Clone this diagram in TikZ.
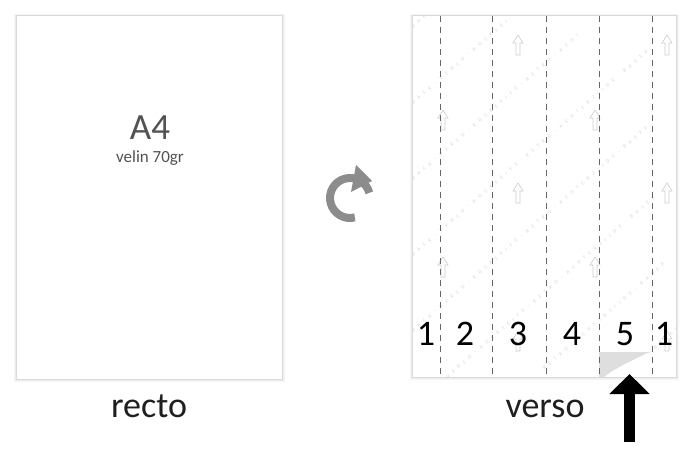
\documentclass[tikz,border=0pt]{standalone}
\usepackage{fontspec}
\setmainfont{Carlito}
\newfontfamily\wmfont[LetterSpace=90]{Carlito}
\usetikzlibrary{arrows.meta}
\begin{document}
\begin{tikzpicture}[x=1pt,y=-1pt,
  sheet/.style={fill=white,draw=black!15,line width=0.8pt,inner sep=0,outer sep=0},
  shadowA/.style={fill=black!4},
  shadowB/.style={fill=black!7},
  fold/.style={draw=black!60,line width=0.75pt,dash pattern=on 6pt off 5pt},
  num/.style={font=\fontsize{36}{36}\selectfont,text=black,anchor=base,inner sep=0},
  caption/.style={font=\fontsize{36}{36}\selectfont,text=black!88,anchor=base,inner sep=0},
  titlefmt/.style={font=\fontsize{37}{37}\selectfont,text=black!68,anchor=base,inner sep=0},
  subfmt/.style={font=\fontsize{17}{17}\selectfont,text=black!68,anchor=base,inner sep=0},
  wm/.style={font=\wmfont\fontsize{5}{5}\selectfont,text=black!17,anchor=west,rotate=41,inner sep=0},
  uparrow/.style={draw=black!20,line width=0.6pt},
  icon/.style={draw=black!45,line width=8pt},
  iconhead/.style={fill=black!45},
  curl/.style={fill=black!13},
  bigarrow/.style={draw=black,line width=11pt,-{Triangle[width=39pt,length=20pt]}}
]
\useasboundingbox (0,0) rectangle (700,454);

% ---------- recto ----------
\fill[shadowA] (14,14) rectangle (285,382);
\fill[shadowB] (15,15) rectangle (284,381);
\node[sheet,anchor=north west,minimum width=266pt,minimum height=364pt] (rectosheet) at (16,15) {};
\node[titlefmt] (a4) at (150,140) {A4};
\node[subfmt] (velin) at (150,163) {velin 70gr};
\node[caption] (recto) at (149,417) {recto};

% ---------- rotate icon ----------
\coordinate (iconc) at (350,198);
\draw[icon] (iconc) ++(-15:20) arc[start angle=-15,end angle=-284,radius=20];
\fill[iconhead] (356,165) -- (372,181) -- (351,192) -- cycle;

% ---------- verso ----------
\fill[shadowA] (410,14) rectangle (679,380);
\fill[shadowB] (411,15) rectangle (678,379);
\node[sheet,anchor=north west,minimum width=264pt,minimum height=362pt] (versosheet) at (412,15) {};

\begin{scope}
  \clip (412.5,15.5) rectangle (675.5,376.5);
  \node[wm] (wm0) at (412,27)  {BACK};
  \node[wm] (wm1) at (412,103) {BACK · VERSO · RÜCKSEI};
  \node[wm] (wm2) at (412,179) {BACK · VERSO · RÜCKSEITE · RETRO · ACHT};
  \node[wm] (wm3) at (412,255) {BACK · VERSO · RÜCKSEITE · RETRO · ACHTERZIJDE · BASEP};
  \node[wm] (wm4) at (412,331) {BACK · VERSO · RÜCKSEITE · RETRO · ACHTERZIJDE · BASEP};
  \node[wm] (wm5) at (446.7,376.9) {VERSO · RÜCKSEITE · RETRO · ACHTERZIJDE · BASEP};
  \node[wm] (wm6) at (538.2,373.3) {· RETRO · ACHTERZIJDE · BASEP};
  \node[wm] (wm7) at (648.9,353.1) {· BASEP};
  \foreach \xx/\yy in {518/35,667/35,443/110,595/110,518/183,667/183,443/257,595/257,518/331,667/331}
    \draw[uparrow] (\xx,\yy) -- ++(-5,8) -- ++(3,0) -- ++(0,12) -- ++(4,0) -- ++(0,-12) -- ++(3,0) -- cycle;
\end{scope}

% page curl
\fill[curl] (599,352) -- (650,352) .. controls (632,360) and (612,370) .. (604,377) -- (599,377) -- cycle;

% fold lines
\foreach \xx in {440,492,546,599,652}
  \draw[fold] (\xx,16) -- (\xx,377);

% panel numbers
\node[num] (p1) at (426,345) {1};
\node[num] (p2) at (465,345) {2};
\node[num] (p3) at (518,345) {3};
\node[num] (p4) at (572,345) {4};
\node[num] (p5) at (625,345) {5};
\node[num] (p6) at (664,345) {1};

\node[caption] (verso) at (545,417) {verso};

% big arrow
\coordinate (arrowtail) at (629.5,442);
\coordinate (arrowtip) at (629.5,374);
\draw[bigarrow] (arrowtail) -- (arrowtip);
\end{tikzpicture}
\end{document}
